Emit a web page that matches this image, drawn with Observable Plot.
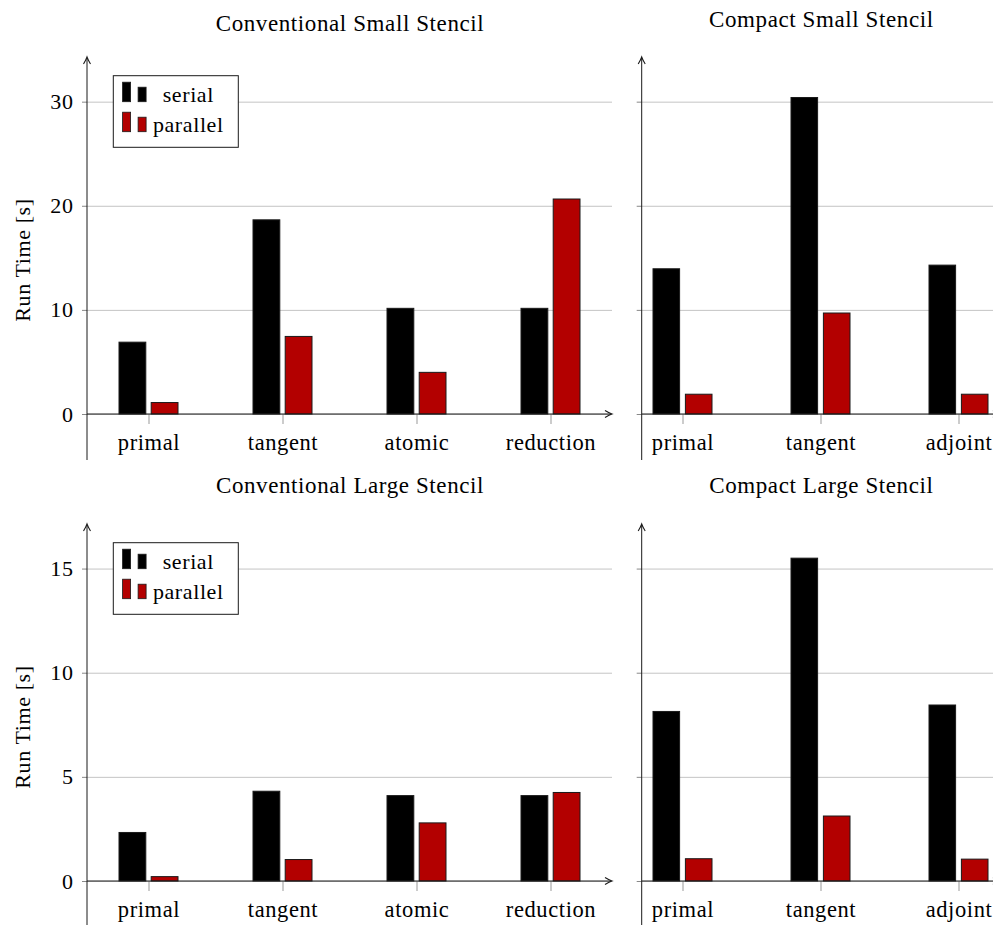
<!DOCTYPE html>
<html><head><meta charset="utf-8">
<script src="https://cdn.jsdelivr.net/npm/d3@7"></script>
<script src="https://cdn.jsdelivr.net/npm/@observablehq/plot@0.6"></script>
<style>
html,body{margin:0;padding:0;background:#fff;}
#root{position:relative;width:993px;height:925px;overflow:hidden;background:#fff;}
.panel{position:absolute;}
.panel svg{overflow:visible;}
</style></head><body><div id="root"></div>
<script>
// ---- data ----
const conventionalCategories = ["primal", "tangent", "atomic", "reduction"];
const compactCategories = ["primal", "tangent", "adjoint"];
const seriesNames = ["serial", "parallel"];
const seriesColors = ["#000000", "#b30000"];

const convSmallSerial = [6.9, 18.65, 10.15, 10.15];
const convSmallParallel = [1.1, 7.45, 4.0, 20.65];
const compSmallSerial = [13.95, 30.4, 14.3];
const compSmallParallel = [1.9, 9.7, 1.9];

const convLargeSerial = [2.33, 4.31, 4.1, 4.1];
const convLargeParallel = [0.21, 1.03, 2.79, 4.25];
const compLargeSerial = [8.14, 15.5, 8.45];
const compLargeParallel = [1.07, 3.12, 1.05];

const smallTicks = [0, 10, 20, 30];
const largeTicks = [0, 5, 10, 15];

const titles = ["Conventional Small Stencil", "Compact Small Stencil", "Conventional Large Stencil", "Compact Large Stencil"];
const yLabel = "Run Time [s]";

// ---- helpers ----
const FONT = "'Liberation Serif', 'Times New Roman', serif";
const INK = "#1a1a1a";

function rows(cats, serial, parallel) {
  return cats.flatMap((c, i) => [
    {cat: c, series: seriesNames[0], value: serial[i]},
    {cat: c, series: seriesNames[1], value: parallel[i]}
  ]);
}

function decorations(opts) {
  return (index, scales, values, dims) => {
    const {width, height, marginLeft: ml, marginRight: mr, marginTop: mt, marginBottom: mb} = dims;
    const x0 = ml, x1 = width - mr, y0 = height - mb, yt = mt;
    const g = d3.create("svg:g");
    g.append("line").attr("x1", x0).attr("x2", x0).attr("y1", y0 + opts.below).attr("y2", yt + 1)
      .attr("stroke", INK).attr("stroke-width", 1);
    g.append("line").attr("x1", x0).attr("x2", x1 - 1).attr("y1", y0).attr("y2", y0)
      .attr("stroke", INK).attr("stroke-width", 1);
    g.append("path")
      .attr("d", `M${x0 - 3.5},${yt + 7} Q${x0 - 0.8},${yt + 2.5} ${x0},${yt} Q${x0 + 0.8},${yt + 2.5} ${x0 + 3.5},${yt + 7}`)
      .attr("fill", "none").attr("stroke", INK).attr("stroke-width", 1.1);
    g.append("path")
      .attr("d", `M${x1 - 7},${y0 - 3.5} Q${x1 - 2.5},${y0 - 0.8} ${x1},${y0} Q${x1 - 2.5},${y0 + 0.8} ${x1 - 7},${y0 + 3.5}`)
      .attr("fill", "none").attr("stroke", INK).attr("stroke-width", 1.1);
    if (opts.legend) {
      const lx = x0 + 26.3, ly = yt + 18.7;
      const lg = g.append("g").attr("transform", `translate(${lx},${ly})`);
      lg.append("rect").attr("x", 0).attr("y", 0).attr("width", 125).attr("height", 71.6)
        .attr("fill", "#fff").attr("stroke", INK).attr("stroke-width", 1);
      seriesNames.forEach((name, k) => {
        const base = 26 + 30 * k;
        lg.append("rect").attr("x", 9.3).attr("y", base - 19.5).attr("width", 8).attr("height", 19.5)
          .attr("fill", seriesColors[k]).attr("stroke", INK).attr("stroke-width", 0.8);
        lg.append("rect").attr("x", 24.8).attr("y", base - 14.5).attr("width", 8).attr("height", 14.5)
          .attr("fill", seriesColors[k]).attr("stroke", INK).attr("stroke-width", 0.8);
        lg.append("text").attr("x", 75).attr("y", base).attr("text-anchor", "middle")
          .attr("font-size", 22).attr("fill", "#000").text(name);
      });
    }
    return g.node();
  };
}

function panel(cfg) {
  const data = rows(cfg.cats, cfg.serial, cfg.parallel);
  const marks = [
    Plot.gridY(cfg.ticks, {stroke: "#c4c4c4", strokeOpacity: 1, strokeWidth: 1}),
    Plot.barY(data.filter(d => d.series === seriesNames[0]), {
      x: "cat", y: "value", fill: seriesColors[0], stroke: INK, strokeWidth: 1,
      insetRight: cfg.inset
    }),
    Plot.barY(data.filter(d => d.series === seriesNames[1]), {
      x: "cat", y: "value", fill: seriesColors[1], stroke: INK, strokeWidth: 1,
      insetLeft: cfg.inset
    }),
    Plot.axisX({tickSize: 10, tickPadding: 10, stroke: "#999", fill: "#000", fontSize: 22.5, label: null}),
    Plot.axisY(cfg.ticks, {
      tickSize: 5, tickPadding: 9, stroke: "#888", fill: "#000", fontSize: 22, label: null,
      tickFormat: cfg.yLabels ? (d => String(d)) : (() => "")
    }),
    decorations({below: 46, legend: cfg.legend}),
    Plot.text([cfg.title], {frameAnchor: "top", textAnchor: "middle", lineAnchor: "middle", dy: cfg.titleDy, fontSize: 23, fill: "#000"})
  ];
  if (cfg.yLabels) {
    marks.push(Plot.text([yLabel], {frameAnchor: "left", textAnchor: "middle", lineAnchor: "middle", rotate: -90, dx: -65, dy: 24, fontSize: 22, fill: "#000"}));
  }
  const chart = Plot.plot({
    width: cfg.width,
    height: 474,
    marginTop: 57,
    marginBottom: 60,
    marginLeft: cfg.marginLeft,
    marginRight: cfg.marginRight,
    style: {background: "transparent", fontFamily: FONT, fontSize: "22px", color: "#000", letterSpacing: "0.6px", overflow: "visible"},
    x: {type: "band", domain: cfg.cats, paddingInner: cfg.paddingInner, paddingOuter: cfg.paddingOuter, align: 0.5, label: null},
    y: {domain: [0, cfg.ymax], label: null},
    marks
  });
  const div = document.createElement("div");
  div.className = "panel";
  div.style.left = cfg.left + "px";
  div.style.top = cfg.top + "px";
  div.style.width = cfg.width + "px";
  div.appendChild(chart);
  document.getElementById("root").appendChild(div);
}

const leftCommon = {cats: conventionalCategories, width: 620, left: 0, marginLeft: 87, marginRight: 8,
  paddingInner: 0.563, paddingOuter: 0.226, inset: 32.2, yLabels: true, legend: true};
const rightCommon = {cats: compactCategories, width: 400, left: 600, marginLeft: 41.7, marginRight: 0,
  paddingInner: 0.57, paddingOuter: 0.0815, inset: 32.4, yLabels: false, legend: false};

panel({...leftCommon, top: 0, serial: convSmallSerial, parallel: convSmallParallel, ticks: smallTicks, ymax: 34.29, title: titles[0], titleDy: -34});
panel({...rightCommon, top: 0, serial: compSmallSerial, parallel: compSmallParallel, ticks: smallTicks, ymax: 34.29, title: titles[1], titleDy: -37.5});
panel({...leftCommon, top: 466.7, serial: convLargeSerial, parallel: convLargeParallel, ticks: largeTicks, ymax: 17.14, title: titles[2], titleDy: -38.5});
panel({...rightCommon, top: 466.7, serial: compLargeSerial, parallel: compLargeParallel, ticks: largeTicks, ymax: 17.14, title: titles[3], titleDy: -38.5});
</script>
</body></html>
